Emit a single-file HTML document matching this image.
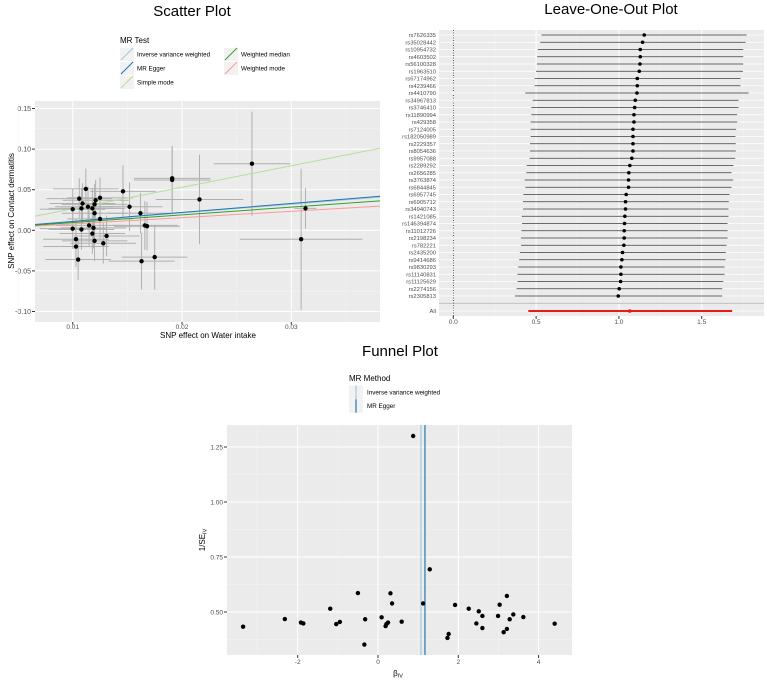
<!DOCTYPE html>
<html><head><meta charset="utf-8"><style>
body{margin:0;background:#fff;font-family:"Liberation Sans",sans-serif;}
svg{display:block;}
</style></head><body>
<svg id="c" width="767" height="680" viewBox="0 0 767 680" xmlns="http://www.w3.org/2000/svg" font-family="Liberation Sans, sans-serif"></svg>
<script>
// ---------- Scatter data ----------
const scX=[0.0100,0.0106,0.0112,0.0109,0.0108,0.0114,0.0118,0.0120,0.0120,0.0121,0.0125,0.0125,0.0100,0.0108,0.0115,0.0119,0.0118,0.0103,0.0120,0.0131,0.0128,0.0103,0.0105,0.0146,0.0152,0.0162,0.0166,0.0168,0.0163,0.0175,0.0191,0.0191,0.0216,0.0264,0.0309,0.0313];
const scY=[0.026,0.039,0.051,0.033,0.027,0.029,0.027,0.032,0.021,0.037,0.040,0.014,0.002,0.001,0.006,0.003,-0.004,-0.011,-0.013,-0.007,-0.016,-0.020,-0.036,0.048,0.029,0.021,0.006,0.005,-0.038,-0.033,0.064,0.062,0.038,0.082,-0.011,0.027];
const scXse=[0.003,0.003,0.003,0.003,0.003,0.003,0.003,0.003,0.003,0.003,0.003,0.003,0.003,0.003,0.003,0.003,0.003,0.003,0.003,0.003,0.003,0.003,0.003,0.003,0.003,0.003,0.003,0.003,0.003,0.003,0.0035,0.0035,0.004,0.0035,0.0056,0.001];
const scYse=[0.025,0.025,0.025,0.025,0.025,0.025,0.025,0.025,0.025,0.025,0.025,0.025,0.025,0.025,0.025,0.025,0.025,0.025,0.025,0.025,0.025,0.025,0.025,0.032,0.03,0.025,0.03,0.03,0.035,0.04,0.04,0.04,0.055,0.064,0.087,0.025];
const lineNames=["Simple mode","Inverse variance weighted","MR Egger","Weighted median","Weighted mode"];
const lineSlopes=[2.65,1.07,1.1,0.95,0.78];
const lineInts=[0,0,0,0,0];
const lineColors=["#b5dd9a","#a9c7d9","#1f78b4","#33a02c","#fb9a99"];
const scXTicks=[0.01,0.02,0.03];
const scYTicks=[-0.10,-0.05,0.00,0.05,0.10,0.15];
// ---------- Leave-one-out data ----------
const looSnps=["rs7626335","rs35028442","rs10954732","rs4603502","rs56100328","rs1963510","rs67174962","rs4239466","rs4410790","rs34967813","rs3746410","rs11890994","rs429358","rs7124005","rs182050989","rs2229357","rs8054636","rs9957088","rs2289292","rs2656285","rs3763874","rs6844845","rs6957745","rs6905712","rs34940743","rs1421085","rs146394874","rs11012726","rs2198234","rs782221","rs2435200","rs9414686","rs9830293","rs11140831","rs11125629","rs2274156","rs2305813"];
const looEst=[1.153,1.143,1.129,1.129,1.127,1.123,1.111,1.111,1.109,1.099,1.095,1.091,1.091,1.085,1.085,1.085,1.085,1.078,1.066,1.060,1.058,1.058,1.044,1.040,1.040,1.036,1.034,1.032,1.032,1.030,1.022,1.018,1.012,1.012,1.010,1.002,0.996];
const looLo=[0.533,0.525,0.511,0.507,0.505,0.499,0.491,0.491,0.435,0.479,0.471,0.471,0.467,0.467,0.467,0.463,0.463,0.461,0.443,0.441,0.431,0.435,0.423,0.421,0.421,0.413,0.415,0.411,0.409,0.409,0.402,0.398,0.392,0.388,0.388,0.382,0.372];
const looHi=[1.771,1.765,1.751,1.751,1.751,1.749,1.734,1.734,1.783,1.722,1.722,1.714,1.714,1.708,1.704,1.706,1.706,1.702,1.692,1.680,1.690,1.680,1.668,1.664,1.662,1.662,1.656,1.656,1.656,1.650,1.646,1.644,1.638,1.638,1.630,1.624,1.624];
const looAll=[1.066,0.453,1.684];
const looXTicks=[0.0,0.5,1.0,1.5];
// ---------- Funnel data ----------
const fuB=[0.876,1.289,1.124,-3.36,-2.32,-1.92,-1.86,-1.19,-1.04,-0.95,-0.50,-0.32,-0.34,0.09,0.19,0.21,0.25,0.31,0.35,0.59,1.73,1.76,1.92,2.26,2.45,2.51,2.60,2.60,2.99,3.03,3.13,3.21,3.21,3.28,3.37,3.62,4.40];
const fuP=[1.300,0.694,0.539,0.433,0.468,0.452,0.448,0.515,0.445,0.455,0.586,0.467,0.352,0.476,0.436,0.445,0.452,0.585,0.539,0.456,0.382,0.400,0.532,0.515,0.448,0.503,0.482,0.427,0.482,0.533,0.408,0.573,0.423,0.467,0.489,0.477,0.447];
const fuLines=[1.07,1.17];
const fuLineNames=["Inverse variance weighted","MR Egger"];
const fuLineColors=["#a9c7d9","#1f78b4"];
const fuXTicks=[-2,0,2,4];
const fuYTicks=[0.50,0.75,1.00,1.25];

const svg=document.getElementById('c');
const NS="http://www.w3.org/2000/svg";
function mk(tag,attrs,parent){const e=document.createElementNS(NS,tag);for(const k in attrs)e.setAttribute(k,attrs[k]);(parent||svg).appendChild(e);return e;}
function txt(s,x,y,size,anchor,fill,parent,extra){const t=mk('text',Object.assign({x:x,y:y,'font-size':size,'text-anchor':anchor||'start',fill:fill||'#000'},extra||{}),parent);t.textContent=s;return t;}

// ===== Scatter =====
const sL=35,sR=380,sT=101,sB=322;
const sx=v=>72.7+(v-0.01)/0.01*109.3;
const sy=v=>230.3-v/0.05*40.6;
let g=mk('g',{});
let r=mk('rect',{x:sL,y:sT,width:sR-sL,height:sB-sT,fill:'#ebebeb'},g);
for(let i=0;i<scYTicks.length;i++){const y=sy(scYTicks[i]);mk('line',{x1:sL,x2:sR,y1:y,y2:y,stroke:'#fff','stroke-width':1},g);
 if(i<scYTicks.length-1){const ym=sy((scYTicks[i]+scYTicks[i+1])/2);mk('line',{x1:sL,x2:sR,y1:ym,y2:ym,stroke:'#f5f5f5','stroke-width':0.5},g);}
 const t=txt(scYTicks[i].toFixed(2),31,y+2.5,7,'end','#4d4d4d',g);
 mk('line',{x1:32,x2:35,y1:y,y2:y,stroke:'#333'},g);}
for(let i=0;i<scXTicks.length;i++){const x=sx(scXTicks[i]);mk('line',{x1:x,x2:x,y1:sT,y2:sB,stroke:'#fff'},g);
 const xm=sx(scXTicks[i]+0.005);if(xm<sR)mk('line',{x1:xm,x2:xm,y1:sT,y2:sB,stroke:'#f5f5f5','stroke-width':0.5},g);
 const t=txt(scXTicks[i].toFixed(2),x,329,6.5,'middle','#4d4d4d',g);
 mk('line',{x1:x,x2:x,y1:sB,y2:sB+2.5,stroke:'#333'},g);}
{const xm=sx(0.005);mk('line',{x1:xm,x2:xm,y1:sT,y2:sB,stroke:'#f5f5f5','stroke-width':0.5},g);}
const clip=mk('clipPath',{id:'sclip'},g);mk('rect',{x:sL,y:sT,width:sR-sL,height:sB-sT},clip);
const cg=mk('g',{'clip-path':'url(#sclip)'},g);
for(let i=0;i<scX.length;i++){
 const e1=mk('line',{x1:sx(scX[i]-scXse[i]),x2:sx(scX[i]+scXse[i]),y1:sy(scY[i]),y2:sy(scY[i]),stroke:'#b0b0b0','stroke-width':1},cg);
 
 const e2=mk('line',{x1:sx(scX[i]),x2:sx(scX[i]),y1:sy(scY[i]-scYse[i]),y2:sy(scY[i]+scYse[i]),stroke:'#b0b0b0','stroke-width':1},cg);
 }
const xa=0.0065,xb=0.0382;
for(let i=0;i<lineSlopes.length;i++){const l=mk('line',{x1:sx(xa),x2:sx(xb),y1:sy(lineInts[i]+lineSlopes[i]*xa),y2:sy(lineInts[i]+lineSlopes[i]*xb),stroke:lineColors[i],'stroke-width':1},cg);
 }
for(let i=0;i<scX.length;i++){const c=mk('circle',{cx:sx(scX[i]),cy:sy(scY[i]),r:2.2,fill:'#000'},cg);}
let t=txt('Scatter Plot',192,16,15,'middle','#000',g);
t=txt('SNP effect on Water intake',208,338,8,'middle','#000',g);
t=txt('SNP effect on Contact dermatitis',0,0,8,'middle','#000',g,{transform:'translate(14,211) rotate(-90)'});
t=txt('MR Test',120,43,8,'start','#000',g);
const legPos=[[120,82,'Simple mode',0],[120,54,'Inverse variance weighted',1],[120,68,'MR Egger',2],[224,54,'Weighted median',3],[224,68,'Weighted mode',4]];
legPos.forEach(p=>{const lg=mk('g',{},g);
 mk('rect',{x:p[0],y:p[1]-6,width:14,height:13,fill:'#f2f2f2'},lg);
 mk('line',{x1:p[0]+1,y1:p[1]+6,x2:p[0]+13,y2:p[1]-6,stroke:lineColors[p[3]],'stroke-width':1},lg);
 txt(p[2],p[0]+17,p[1]+2.5,6.3,'start','#000',lg);});

// ===== Leave-one-out =====
const lL=439,lR=764,lT=30,lB=316;
const lx=v=>453.3+v*165.6;
const rowY=i=>35+i*7.25;
g=mk('g',{});
r=mk('rect',{x:lL,y:lT,width:lR-lL,height:lB-lT,fill:'#ebebeb'},g);
for(let v=0.25;v<1.8;v+=0.5){mk('line',{x1:lx(v),x2:lx(v),y1:lT,y2:lB,stroke:'#f5f5f5','stroke-width':0.5},g);}
looXTicks.forEach(v=>{const x=lx(v);mk('line',{x1:x,x2:x,y1:lT,y2:lB,stroke:'#fff'},g);mk('line',{x1:x,x2:x,y1:lB,y2:lB+3,stroke:'#333'},g);
 const tt=txt(v.toFixed(1),x,324,6.5,'middle','#4d4d4d',g);});
mk('line',{x1:lL,x2:lR,y1:303.3,y2:303.3,stroke:'#bbb','stroke-width':0.8},g);
mk('line',{x1:lx(0),x2:lx(0),y1:lT,y2:lB,stroke:'#000','stroke-width':0.7,'stroke-dasharray':'1,1.5'},g);
for(let i=0;i<looSnps.length;i++){const y=rowY(i);mk('line',{x1:lL,x2:lR,y1:y,y2:y,stroke:'#fff','stroke-width':0.8},g);
 const tt=txt(looSnps[i],436,y+2.2,5.8,'end','#4d4d4d',g);
 const l=mk('line',{x1:lx(looLo[i]),x2:lx(looHi[i]),y1:y,y2:y,stroke:'#3a3a3a','stroke-width':0.8},g);
 const c=mk('circle',{cx:lx(looEst[i]),cy:y,r:1.8,fill:'#000'},g);}
{const y=311;mk('line',{x1:lL,x2:lR,y1:y,y2:y,stroke:'#fff','stroke-width':0.8},g);
 txt('All',436,y+2.2,5.8,'end','#4d4d4d',g);
 const l=mk('line',{x1:lx(looAll[1]),x2:lx(looAll[2]),y1:y,y2:y,stroke:'#e41a1c','stroke-width':2},g);
 const c=mk('circle',{cx:lx(looAll[0]),cy:y,r:1.8,fill:'#e41a1c'},g);}
t=txt('Leave-One-Out Plot',611,14,15,'middle','#000',g);

// ===== Funnel =====
const fL=227,fR=572,fT=425,fB=655;
const fx=v=>378+v*40.15;
const fy=v=>612-(v-0.5)*220;
g=mk('g',{});
r=mk('rect',{x:fL,y:fT,width:fR-fL,height:fB-fT,fill:'#ebebeb'},g);
[-3,-1,1,3].forEach(v=>mk('line',{x1:fx(v),x2:fx(v),y1:fT,y2:fB,stroke:'#f5f5f5','stroke-width':0.5},g));
[0.375,0.625,0.875,1.125].forEach(v=>mk('line',{x1:fL,x2:fR,y1:fy(v),y2:fy(v),stroke:'#f5f5f5','stroke-width':0.5},g));
fuXTicks.forEach(v=>{const x=fx(v);mk('line',{x1:x,x2:x,y1:fT,y2:fB,stroke:'#fff'},g);mk('line',{x1:x,x2:x,y1:fB,y2:fB+3,stroke:'#333'},g);
 const tt=txt(String(v),x,664,6.5,'middle','#4d4d4d',g);});
fuYTicks.forEach(v=>{const y=fy(v);mk('line',{x1:fL,x2:fR,y1:y,y2:y,stroke:'#fff'},g);mk('line',{x1:fL-3,x2:fL,y1:y,y2:y,stroke:'#333'},g);
 const tt=txt(v.toFixed(2),223,y+2.3,6.5,'end','#4d4d4d',g);});
for(let i=0;i<fuLines.length;i++){const l=mk('line',{x1:fx(fuLines[i]),x2:fx(fuLines[i]),y1:fT,y2:fB,stroke:fuLineColors[i],'stroke-width':1.2},g);
 }
for(let i=0;i<fuB.length;i++){const c=mk('circle',{cx:fx(fuB[i]),cy:fy(fuP[i]),r:2.2,fill:'#000'},g);}
t=txt('Funnel Plot',400,356,15,'middle','#000',g);
t=mk('text',{x:398,y:676,'font-size':8,'text-anchor':'middle',fill:'#000'},g);t.innerHTML='β<tspan font-size="5.5" dy="1.5">IV</tspan>';
t=mk('text',{'font-size':8,'text-anchor':'middle',fill:'#000',transform:'translate(205,540) rotate(-90)'},g);t.innerHTML='1/SE<tspan font-size="5.5" dy="1.5">IV</tspan>';
t=txt('MR Method',349,381,8,'start','#000',g);
for(let i=0;i<fuLineNames.length;i++){const lg=mk('g',{},g);
 const y=392+i*13.7;mk('rect',{x:349,y:y-6.5,width:14,height:13.5,fill:'#f2f2f2'},lg);
 mk('line',{x1:356,x2:356,y1:y-6.5,y2:y+7,stroke:fuLineColors[i],'stroke-width':1.2},lg);
 txt(fuLineNames[i],367,y+2.3,6.3,'start','#000',lg);}
</script>
</body></html>
